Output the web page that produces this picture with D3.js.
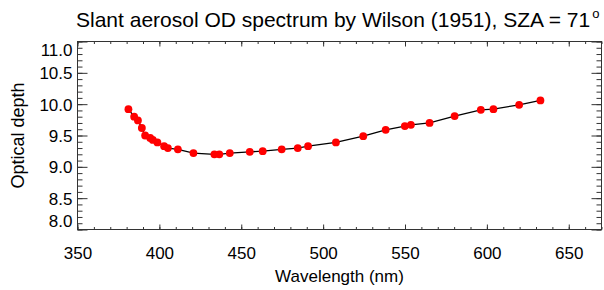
<!DOCTYPE html>
<html>
<head>
<meta charset="utf-8">
<script src="https://cdn.jsdelivr.net/npm/d3@7"></script>
<style>
  body { margin: 0; background: #fff; }
  text { font-family: "Liberation Sans", Arial, Helvetica, sans-serif; fill: #000; }
</style>
</head>
<body>
<div id="chart"></div>
<script>
// Wilson (1951) slant aerosol optical depth
const wavelength = [381.1, 384.6, 386.9, 389.3, 391.3, 394.4, 396.0, 398.8, 402.9, 405.2,
                    411.3, 420.8, 433.6, 436.6, 443.0, 455.2, 463.1, 474.7, 484.5, 490.8,
                    507.8, 524.5, 538.2, 549.9, 553.6, 565.0, 580.3, 596.3, 604.0, 619.7, 632.7]
const opticalDepth = [9.92, 9.80, 9.74, 9.62, 9.50, 9.46, 9.43, 9.39, 9.33, 9.30,
                      9.28, 9.22, 9.20, 9.20, 9.22, 9.24, 9.25, 9.28, 9.30, 9.33,
                      9.39, 9.49, 9.59, 9.65, 9.67, 9.70, 9.81, 9.91, 9.92, 9.99, 10.06]

const xTicks = [350, 400, 450, 500, 550, 600, 650]
const xMinor = d3.range(350, 671, 10)
const yTicks = [8.0, 8.5, 9.0, 9.5, 10.0, 10.5, 11.0]
const yMinor = d3.range(80, 111, 1).map(d => d / 10)

const width = 604
const height = 290
const plotLeft = 77.5, plotRight = 601.5, plotTop = 41.5, plotBottom = 229.5

const svg = d3.select("#chart").append("svg")
    .attr("width", width)
    .attr("height", height)

const x = d3.scaleLinear().domain([350, 670]).range([plotLeft, plotRight])
const y = d3.scaleLinear().domain([8, 11]).range([plotBottom, plotTop])

const axisColor = "#333"

function styleAxis(g) {
    g.select(".domain").remove()
    g.selectAll("line").attr("stroke", axisColor)
    g.selectAll("text").style("font-size", "17px").attr("fill", "#000")
}

// minor ticks, all four sides
svg.append("g").attr("transform", `translate(0,${plotBottom})`)
    .call(d3.axisBottom(x).tickValues(xMinor).tickSize(-2.5).tickFormat(""))
    .call(styleAxis)
svg.append("g").attr("transform", `translate(0,${plotTop})`)
    .call(d3.axisTop(x).tickValues(xMinor).tickSize(-2.5).tickFormat(""))
    .call(styleAxis)
svg.append("g").attr("transform", `translate(${plotLeft},0)`)
    .call(d3.axisLeft(y).tickValues(yMinor).tickSize(-5).tickFormat(""))
    .call(styleAxis)
svg.append("g").attr("transform", `translate(${plotRight},0)`)
    .call(d3.axisRight(y).tickValues(yMinor).tickSize(-5).tickFormat(""))
    .call(styleAxis)

// major ticks with labels
svg.append("g").attr("transform", `translate(0,${plotBottom})`)
    .call(d3.axisBottom(x).tickValues(xTicks).tickSize(-5).tickPadding(17.5).tickFormat(d3.format("d")))
    .call(styleAxis)
svg.append("g").attr("transform", `translate(0,${plotTop})`)
    .call(d3.axisTop(x).tickValues(xTicks).tickSize(-5).tickFormat(""))
    .call(styleAxis)
const yAxis = svg.append("g").attr("transform", `translate(${plotLeft},0)`)
    .call(d3.axisLeft(y).tickValues(yTicks).tickSize(-10).tickPadding(5).tickFormat(d3.format(".1f")))
    .call(styleAxis)
svg.append("g").attr("transform", `translate(${plotRight},0)`)
    .call(d3.axisRight(y).tickValues(yTicks).tickSize(-10).tickFormat(""))
    .call(styleAxis)

// end labels pushed inside the box
yAxis.selectAll(".tick text")
    .attr("dy", d => d === 11 ? "0.8em" : d === 8 ? "-0.15em" : "0.35em")

// frame
svg.append("rect")
    .attr("x", plotLeft).attr("y", plotTop)
    .attr("width", plotRight - plotLeft).attr("height", plotBottom - plotTop)
    .attr("fill", "none")
    .attr("stroke", axisColor)
    .attr("stroke-width", 1)

// data
const points = wavelength.map((w, i) => ({ w: w, v: opticalDepth[i] }))

svg.append("path")
    .datum(points)
    .attr("fill", "none")
    .attr("stroke", "#000")
    .attr("stroke-width", 1.3)
    .attr("d", d3.line().x(d => x(d.w)).y(d => y(d.v)))

svg.append("g").selectAll("circle")
    .data(points)
    .enter().append("circle")
    .attr("cx", d => x(d.w))
    .attr("cy", d => y(d.v))
    .attr("r", 3.9)
    .attr("fill", "#ff0000")

// titles
const title = svg.append("text")
    .attr("x", 76)
    .attr("y", 27)
    .style("font-size", "21px")
    .text("Slant aerosol OD spectrum by Wilson (1951), SZA = 71")
title.append("tspan")
    .attr("dx", 2)
    .attr("dy", -9)
    .style("font-size", "13px")
    .text("o")

svg.append("text")
    .attr("x", (plotLeft + plotRight) / 2)
    .attr("y", 282)
    .attr("text-anchor", "middle")
    .style("font-size", "17px")
    .text("Wavelength (nm)")

svg.append("text")
    .attr("transform", `translate(24,${(plotTop + plotBottom) / 2}) rotate(-90)`)
    .attr("text-anchor", "middle")
    .style("font-size", "18px")
    .text("Optical depth")
</script>
</body>
</html>
